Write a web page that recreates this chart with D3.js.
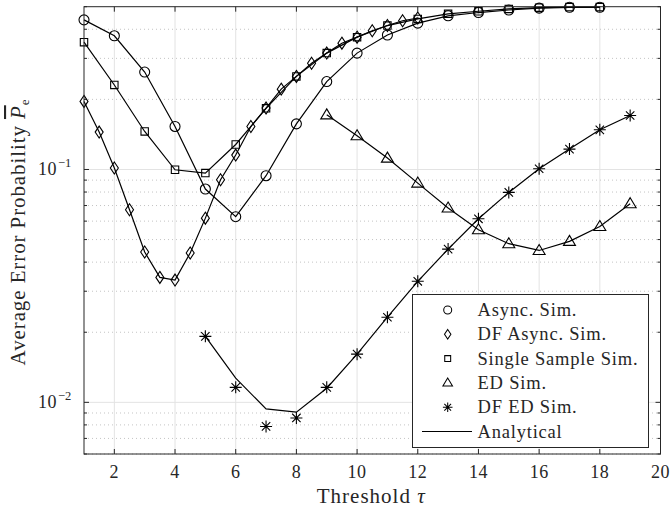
<!DOCTYPE html>
<html>
<head>
<meta charset="utf-8">
<script src="https://cdn.jsdelivr.net/npm/d3@7"></script>
<style>
  body { margin: 0; background: #fff; }
  text { font-family: "Liberation Serif", "DejaVu Serif", serif; fill: #262626; }
</style>
</head>
<body>
<script>
'use strict';

// simulated / analytical values
const asyncX = [1, 2, 3, 4, 5, 6, 7, 8, 9, 10, 11, 12, 13, 14, 15, 16, 17, 18];
const asyncSim = [0.439, 0.375, 0.262, 0.153, 0.0824, 0.0627, 0.094, 0.157, 0.2385, 0.316,
  0.378, 0.425, 0.457, 0.472, 0.484, 0.493, 0.497, 0.497];

const dfAsyncX = [1, 1.5, 2, 2.5, 3, 3.5, 4, 4.5, 5, 5.5, 6, 6.5, 7, 7.5, 8, 8.5, 9, 9.5,
  10, 10.5, 11, 11.5, 12];
const dfAsyncSim = [0.196, 0.1447, 0.1014, 0.0671, 0.0442, 0.0344, 0.0335, 0.0438, 0.0618,
  0.0903, 0.1153, 0.153, 0.1835, 0.2213, 0.251, 0.286, 0.316, 0.3486, 0.37, 0.394, 0.415,
  0.435, 0.447];

const singleX = [1, 2, 3, 4, 5, 6, 7, 8, 9, 10, 11, 12, 13, 14, 15, 16, 17, 18];
const singleSim = [0.352, 0.2306, 0.1456, 0.0997, 0.0965, 0.128, 0.183, 0.251, 0.316, 0.37,
  0.415, 0.443, 0.466, 0.478, 0.489, 0.495, 0.498, 0.498];

const edX = [9, 10, 11, 12, 13, 14, 15, 16, 17, 18, 19];
const edSim = [0.1716, 0.1395, 0.1119, 0.0874, 0.0683, 0.0551, 0.048, 0.0449, 0.0491,
  0.0569, 0.0713];

const dfEdX = [5, 6, 7, 8, 9, 10, 11, 12, 13, 14, 15, 16, 17, 18, 19];
const dfEdSim = [0.0192, 0.0116, 0.00788, 0.00857, 0.0116, 0.0161, 0.0232, 0.0331, 0.0455,
  0.0614, 0.0797, 0.1007, 0.1223, 0.148, 0.1705];
const dfEdAna = [0.0192, 0.0127, 0.00937, 0.00907, 0.0115, 0.0161, 0.0232, 0.0331, 0.0455,
  0.0614, 0.0797, 0.1007, 0.1223, 0.148, 0.1705];

const xTicks = [2, 4, 6, 8, 10, 12, 14, 16, 18, 20];
const yMajor = [0.01, 0.1];
const yMinor = [0.006, 0.007, 0.008, 0.009, 0.02, 0.03, 0.04, 0.05, 0.06, 0.07, 0.08, 0.09,
  0.2, 0.3, 0.4, 0.5];

const legendLabels = ["Async. Sim.", "DF Async. Sim.", "Single Sample Sim.", "ED Sim.",
  "DF ED Sim.", "Analytical"];

const m = { left: 84, right: 660.5, top: 6.7, bottom: 454 };

const svg = d3.select('body').append('svg')
  .attr('width', 670)
  .attr('height', 510);

const x = d3.scaleLinear().domain([1, 20]).range([m.left, m.right]);
const y = d3.scaleLog().domain([0.006, 0.5]).range([m.bottom, m.top]);

// grid
const grid = svg.append('g');
grid.selectAll('.vg').data(xTicks.filter(d => d < 20)).enter().append('line')
  .attr('x1', d => x(d)).attr('x2', d => x(d))
  .attr('y1', m.top).attr('y2', m.bottom)
  .attr('stroke', '#e3e3e3').attr('stroke-width', 1);
grid.selectAll('.hmin').data(yMinor.filter(d => d < 0.5)).enter().append('line')
  .attr('x1', m.left).attr('x2', m.right)
  .attr('y1', d => y(d)).attr('y2', d => y(d))
  .attr('stroke', '#c4c4c4').attr('stroke-width', 1)
  .attr('stroke-dasharray', '1,3');
grid.selectAll('.hmaj').data(yMajor).enter().append('line')
  .attr('x1', m.left).attr('x2', m.right)
  .attr('y1', d => y(d)).attr('y2', d => y(d))
  .attr('stroke', '#e3e3e3').attr('stroke-width', 1);

// axes (ticks inward)
const tickG = svg.append('g').attr('stroke', '#262626').attr('stroke-width', 1);
xTicks.forEach(t => {
  tickG.append('line').attr('x1', x(t)).attr('x2', x(t)).attr('y1', m.bottom).attr('y2', m.bottom - 5);
  tickG.append('line').attr('x1', x(t)).attr('x2', x(t)).attr('y1', m.top).attr('y2', m.top + 5);
});
yMajor.forEach(t => {
  tickG.append('line').attr('x1', m.left).attr('x2', m.left + 5).attr('y1', y(t)).attr('y2', y(t));
  tickG.append('line').attr('x1', m.right).attr('x2', m.right - 5).attr('y1', y(t)).attr('y2', y(t));
});
yMinor.forEach(t => {
  tickG.append('line').attr('x1', m.left).attr('x2', m.left + 3).attr('y1', y(t)).attr('y2', y(t));
  tickG.append('line').attr('x1', m.right).attr('x2', m.right - 3).attr('y1', y(t)).attr('y2', y(t));
});

svg.selectAll('.xl').data(xTicks).enter().append('text')
  .attr('x', d => x(d)).attr('y', m.bottom + 24)
  .attr('text-anchor', 'middle')
  .style('font-size', '18px')
  .style('letter-spacing', '0.5px')
  .text(d => d);

yMajor.forEach(t => {
  svg.append('text')
    .attr('x', 57).attr('y', y(t) + 6)
    .attr('text-anchor', 'end')
    .style('font-size', '18px')
    .style('letter-spacing', '0.5px')
    .text('10');
  svg.append('text')
    .attr('x', 58).attr('y', y(t) - 2)
    .style('font-size', '12.5px')
    .text('\u2212' + Math.round(-Math.log10(t)));
});

// axis titles
svg.append('text')
  .attr('x', (m.left + m.right) / 2 - 1).attr('y', 503)
  .attr('text-anchor', 'middle')
  .style('font-size', '21px')
  .style('letter-spacing', '1px')
  .html('Threshold <tspan font-style="italic">τ</tspan>');

const yl = svg.append('text')
  .attr('transform', 'translate(25,' + 232 + ')rotate(-90)')
  .attr('text-anchor', 'middle')
  .style('font-size', '21px')
  .style('letter-spacing', '0.9px');
yl.append('tspan').text('Average Error Probability ');
yl.append('tspan').attr('font-style', 'italic').style('text-decoration', 'overline').text('P');
yl.append('tspan').attr('font-size', '13px').attr('dy', 4).text('e');

// curves
const line = d3.line().x(d => x(d[0])).y(d => y(d[1]));
const zip = (xs, vs) => xs.map((v, i) => [v, vs[i]]);
const curves = [
  zip(asyncX, asyncSim),
  zip(dfAsyncX, dfAsyncSim),
  zip(singleX, singleSim),
  zip(edX, edSim),
  zip(dfEdX, dfEdAna)
];
svg.append('g').selectAll('path').data(curves).enter().append('path')
  .attr('d', line)
  .attr('fill', 'none')
  .attr('stroke', '#000')
  .attr('stroke-width', 1.2);

// markers
const markerPath = {
  circle: 'M5,0A5,5 0 1,1 -5,0A5,5 0 1,1 5,0Z',
  diamond: 'M0,-6L4,0L0,6L-4,0Z',
  square: 'M-3.7,-3.7H3.7V3.7H-3.7Z',
  triangle: 'M0,-6L6,4H-6Z',
  star: 'M0,-6V6M-6,0H6M-4.2,-4.2L4.2,4.2M-4.2,4.2L4.2,-4.2'
};
const markerSets = [
  [zip(asyncX, asyncSim), 'circle'],
  [zip(dfAsyncX, dfAsyncSim), 'diamond'],
  [zip(singleX, singleSim), 'square'],
  [zip(edX, edSim), 'triangle'],
  [zip(dfEdX, dfEdSim), 'star']
];
markerSets.forEach(([pts, shape]) => {
  svg.append('g').selectAll('path').data(pts).enter().append('path')
    .attr('transform', d => 'translate(' + x(d[0]) + ',' + y(d[1]) + ')')
    .attr('d', markerPath[shape])
    .attr('fill', 'none')
    .attr('stroke', '#000')
    .attr('stroke-width', 1.1);
});

// axis box
svg.append('rect')
  .attr('x', m.left).attr('y', m.top)
  .attr('width', m.right - m.left).attr('height', m.bottom - m.top)
  .attr('fill', 'none').attr('stroke', '#262626').attr('stroke-width', 1);

// legend
const lg = svg.append('g');
lg.append('rect')
  .attr('x', 412.5).attr('y', 294.5).attr('width', 236).attr('height', 153)
  .attr('fill', '#fff').attr('stroke', '#262626').attr('stroke-width', 1);
const shapes = ['circle', 'diamond', 'square', 'triangle', 'star'];
legendLabels.forEach((lab, i) => {
  const ly = 310 + i * 24.3;
  if (i < 5) {
    lg.append('path')
      .attr('transform', 'translate(447.7,' + ly + ') scale(0.8)')
      .attr('d', markerPath[shapes[i]])
      .attr('fill', 'none').attr('stroke', '#000').attr('stroke-width', 1.3);
  } else {
    lg.append('line').attr('x1', 422).attr('x2', 472).attr('y1', ly).attr('y2', ly)
      .attr('stroke', '#000').attr('stroke-width', 1.2);
  }
  lg.append('text')
    .attr('x', 477.5).attr('y', ly + 6)
    .style('font-size', '18.5px')
    .style('letter-spacing', '0.8px')
    .text(lab);
});
</script>
</body>
</html>
